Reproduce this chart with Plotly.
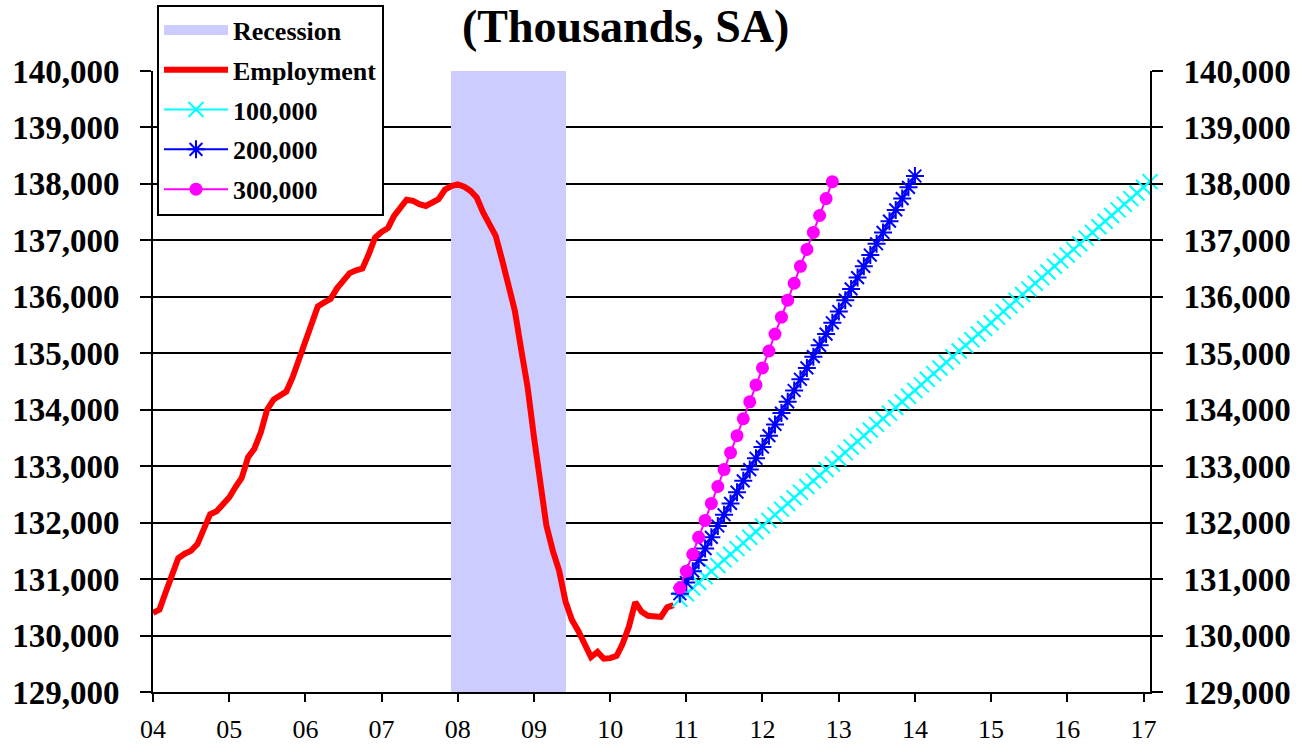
import pandas as pd
import plotly.graph_objects as go

# Payroll employment, monthly, thousands (SA): Jan 2004 - Nov 2010
employment = [
    130400, 130460, 130760, 131060, 131370, 131450, 131500, 131620, 131870, 132150, 132200, 132310,
    132450, 132640, 132790, 133160, 133310, 133600, 134000, 134180, 134250, 134320, 134580, 134900,
    135200, 135550, 135830, 135900, 135960, 136150, 136300, 136420, 136470, 136500, 136760, 137050,
    137150, 137220, 137430, 137560, 137720, 137700, 137640, 137610, 137680, 137730, 137900, 137960,
    137990, 137950, 137880, 137760, 137500, 137300, 137080, 136650, 136200, 135750, 135050, 134400,
    133500, 132600, 131950, 131500, 131150, 130600, 130280, 130080, 129850, 129620, 129710, 129590,
    129600, 129640, 129850, 130160, 130590, 130420, 130350, 130350, 130330, 130500, 130540,
]
employment_start = "2004-01-01"

# Paths back to the prior peak at a constant monthly job gain, from Dec 2010
path_start = "2010-12-01"
path_100k = [
    130640, 130740, 130840, 130940, 131040, 131140, 131240, 131340, 131440, 131540,
    131640, 131740, 131840, 131940, 132040, 132140, 132240, 132340, 132440, 132540,
    132640, 132740, 132840, 132940, 133040, 133140, 133240, 133340, 133440, 133540,
    133640, 133740, 133840, 133940, 134040, 134140, 134240, 134340, 134440, 134540,
    134640, 134740, 134840, 134940, 135040, 135140, 135240, 135340, 135440, 135540,
    135640, 135740, 135840, 135940, 136040, 136140, 136240, 136340, 136440, 136540,
    136640, 136740, 136840, 136940, 137040, 137140, 137240, 137340, 137440, 137540,
    137640, 137740, 137840, 137940, 138040,
]
path_200k = [
    130740, 130940, 131140, 131340, 131540, 131740, 131940, 132140, 132340, 132540,
    132740, 132940, 133140, 133340, 133540, 133740, 133940, 134140, 134340, 134540,
    134740, 134940, 135140, 135340, 135540, 135740, 135940, 136140, 136340, 136540,
    136740, 136940, 137140, 137340, 137540, 137740, 137940, 138140,
]
path_300k = [
    130840, 131140, 131440, 131740, 132040, 132340, 132640, 132940, 133240, 133540,
    133840, 134140, 134440, 134740, 135040, 135340, 135640, 135940, 136240, 136540,
    136840, 137140, 137440, 137740, 138040,
]

# Recession (NBER): Dec 2007 - Jun 2009
recession_start = "2007-12-01"
recession_end = "2009-06-01"

y_min, y_max = 129000, 140000
x_min, x_max = "2004-01-01", "2017-02-01"

SERIF = "Liberation Serif, Times New Roman, serif"

emp_x = pd.date_range(employment_start, periods=len(employment), freq="MS")


def path_dates(vals):
    return pd.date_range(path_start, periods=len(vals), freq="MS")


rs, re_ = pd.Timestamp(recession_start), pd.Timestamp(recession_end)
rec_center = rs + (re_ - rs) / 2
rec_width_ms = (re_ - rs).total_seconds() * 1000

fig = go.Figure()

# recession band as a single bar spanning the full y range
fig.add_trace(go.Bar(
    x=[rec_center], y=[y_max - y_min], base=[y_min], width=[rec_width_ms],
    marker=dict(color="#CCCCFF", line=dict(width=0)),
    showlegend=False, legendgroup="rec", hoverinfo="skip",
))
# legend swatch for the band
fig.add_trace(go.Scatter(
    x=[None], y=[None], mode="lines", name="Recession", legendgroup="rec",
    line=dict(color="#CCCCFF", width=16),
))

fig.add_trace(go.Scatter(
    x=emp_x, y=employment, mode="lines", name="Employment", legendgroup="emp",
    line=dict(color="#FF0000", width=6),
))

fig.add_trace(go.Scatter(
    x=path_dates(path_100k), y=path_100k, mode="lines+markers", name="100,000",
    legendgroup="p1", cliponaxis=False,
    line=dict(color="#00FFFF", width=2),
    marker=dict(symbol="x-thin", size=15, line=dict(color="#00FFFF", width=2)),
))
fig.add_trace(go.Scatter(
    x=path_dates(path_200k), y=path_200k, mode="lines+markers", name="200,000",
    legendgroup="p2", cliponaxis=False,
    line=dict(color="#0000FF", width=2),
    marker=dict(symbol="asterisk", size=15, line=dict(color="#0000FF", width=2)),
))
# the 300k path sits on the right-hand axis (same scale) so that axis is drawn
fig.add_trace(go.Scatter(
    x=path_dates(path_300k), y=path_300k, mode="lines+markers", name="300,000",
    legendgroup="p3", cliponaxis=False, yaxis="y2",
    line=dict(color="#FF00FF", width=2),
    marker=dict(symbol="circle", size=13, color="#FF00FF"),
))

ytick_font = dict(family=SERIF, size=33, color="black", weight="bold")
tickvals = list(range(y_min, y_max + 1, 1000))

fig.update_layout(
    width=1310, height=746,
    margin=dict(l=153, r=160, t=71, b=54, autoexpand=False),
    paper_bgcolor="white", plot_bgcolor="white",
    bargap=0,
    xaxis=dict(
        type="date", range=[x_min, x_max],
        tick0="2004-01-01", dtick="M12", tickformat="%y",
        ticks="outside", ticklen=8, tickwidth=2, tickcolor="black",
        showline=True, linecolor="black", linewidth=2,
        showgrid=False, zeroline=False,
        tickfont=dict(family=SERIF, size=26, color="black"),
        ticklabelstandoff=5, automargin=False,
    ),
    yaxis=dict(
        range=[y_min, y_max], tickvals=tickvals, tickformat=",d",
        ticks="outside", ticklen=11, tickwidth=2, tickcolor="black",
        showline=True, linecolor="black", linewidth=2,
        showgrid=True, gridcolor="black", gridwidth=2, zeroline=False,
        tickfont=ytick_font, ticklabelstandoff=14, automargin=False,
    ),
    yaxis2=dict(
        range=[y_min, y_max], tickvals=tickvals, tickformat=",d",
        overlaying="y", side="right", anchor="x",
        ticks="outside", ticklen=11, tickwidth=2, tickcolor="black",
        showline=True, linecolor="black", linewidth=2,
        showgrid=False, zeroline=False,
        tickfont=ytick_font, ticklabelstandoff=14, automargin=False,
    ),
    legend=dict(
        x=0.004, y=1.107, xanchor="left", yanchor="top",
        bgcolor="white", bordercolor="black", borderwidth=2,
        font=dict(family=SERIF, size=26, color="black", weight="bold"),
        itemwidth=64, tracegroupgap=3, traceorder="grouped",
    ),
    showlegend=True,
    annotations=[dict(
        text="(Thousands, SA)", xref="paper", yref="paper",
        x=0.474, y=71 / 621, xanchor="center", yanchor="top", showarrow=False,
        borderpad=0,
        font=dict(family=SERIF, size=46, color="black", weight="bold"),
    )],
)
fig.layout.annotations[0].y = 1 + 71 / 621

fig.write_html("out.html")
